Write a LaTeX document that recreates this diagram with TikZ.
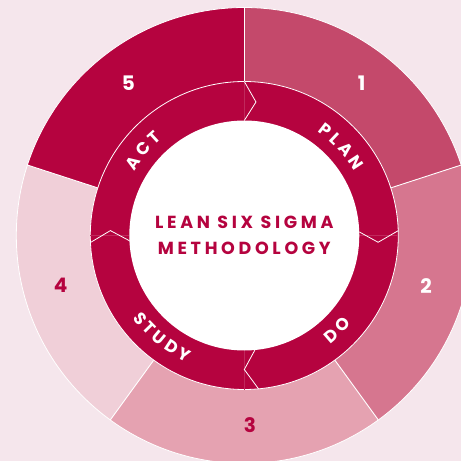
\documentclass[tikz,border=0pt]{standalone}
\usepackage{fontspec}
\setmainfont{Poppins}
\newfontfamily\sigmafont[LetterSpace=21]{Poppins}
\newcommand\ringtype{\fontsize{17}{17}\selectfont\bfseries}
\usepackage{tikz}
\usetikzlibrary{
  decorations.text,
}
\definecolor{sigmabg}{HTML}{F5E6EC}
\definecolor{sigmadark}{HTML}{B5033F}
\definecolor{sigmaone}{HTML}{C4496B}
\definecolor{sigmatwo}{HTML}{D6768F}
\definecolor{sigmathree}{HTML}{E5A2B1}
\definecolor{sigmafour}{HTML}{F0CFD8}

\begin{document}
\begin{tikzpicture}[
  x=1pt, y=1pt,
  step number/.style={
    font=\fontsize{20}{20}\selectfont\bfseries,
  },
  ring label/.style={
    decorate,
    decoration={
      text align={center},
      text along path,
      text={|\color{white}\ringtype|#1},
    },
  },
  ]
  \useasboundingbox (-244.3,-225.5) rectangle (216.7,235.5);
  \clip (-244.3,-225.5) rectangle (216.7,235.5);
  \fill [sigmabg] (-244.3,-225.5) rectangle (216.7,235.5);

  \foreach \from/\to/\col in {
    18/90/sigmaone, -54/18/sigmatwo, -126/-54/sigmathree,
    162/234/sigmafour, 90/162/sigmadark}
  {
    \fill [\col] (0,0) -- (\from:228) arc (\from:\to:228) -- cycle;
  }
  \draw [white, line width=0.8pt] (0,0) circle (228);
  \foreach \ang in {90, 18, -54, -126, 162}
    \draw [white, line width=0.9pt] (\ang:154) -- (\ang:228);

  \fill [sigmadark] (0,0) circle (154);
  \draw [white, line width=0.8pt] (0,0) circle (154);
  \foreach \ang in {0, 90, 180, 270}
    \draw [sigmadark!85!white, line width=0.4pt] (\ang:115) -- (\ang:154);
  \foreach \ang/\e/\t in {90/0/-5, 0/1.8/-2.9, -90/5.3/0, 180/2.6/-2.1}
    \draw [white, line width=0.8pt]
      (\ang+\e:115) -- (\ang+\t:134) -- (\ang+\e:154);
  \fill [white] (0,0) circle (115);

  \path [ring label={P L A N}] (87:127.3) arc (87:-2:127.3);
  \path [ring label={A C T}] (185:127.3) arc (185:95:127.3);
  \path [ring label={D O}] (-92:139) arc (-92:1:139);
  \path [ring label={S T U D Y}] (-174:139) arc (-174:-84:139);

  \node [text=sigmadark, align=center,
    font=\sigmafont\fontsize{17.5}{26}\selectfont\bfseries]
    (title) at (0,0.5) {LEAN SIX SIGMA\\METHODOLOGY};

  \node [step number, text=white] (step-1) at (117.4,152.2) {1};
  \node [step number, text=white] (step-2) at (181.7,-50.2) {2};
  \node [step number, text=sigmadark] (step-3) at (5.7,-189.5) {3};
  \node [step number, text=sigmadark] (step-4) at (-183.6,-50.2) {4};
  \node [step number, text=white] (step-5) at (-116,152.2) {5};
\end{tikzpicture}
\end{document}
